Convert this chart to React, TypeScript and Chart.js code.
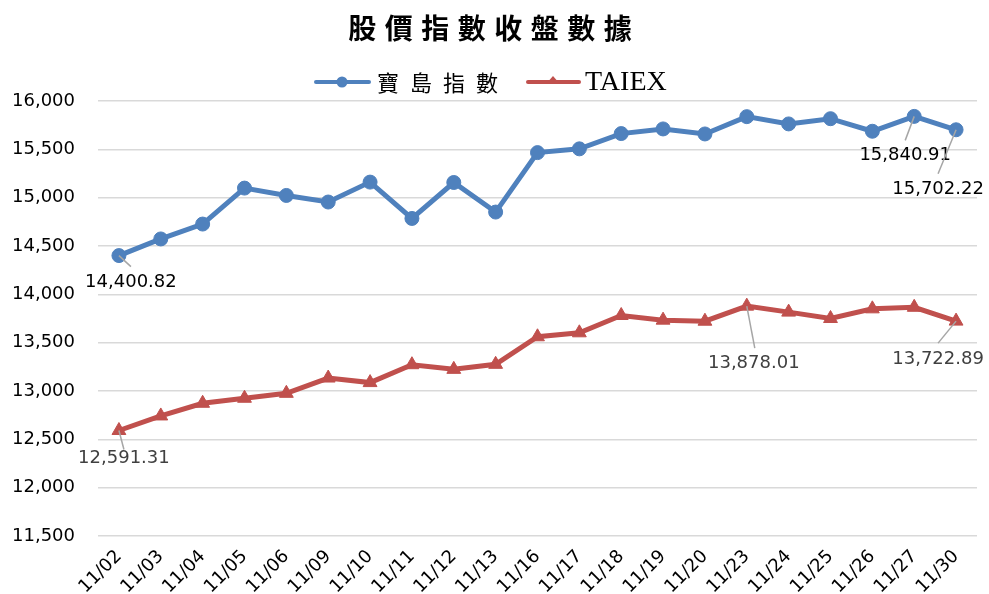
import React, { useEffect, useRef } from 'react';
import { Chart, registerables } from 'chart.js';

Chart.register(...registerables);

const chartTitle = '股價指數收盤數據';
const seriesNames = ['寶島指數', 'TAIEX'];
const categories = ['11/02', '11/03', '11/04', '11/05', '11/06', '11/09', '11/10', '11/11', '11/12', '11/13', '11/16', '11/17', '11/18', '11/19', '11/20', '11/23', '11/24', '11/25', '11/26', '11/27', '11/30'];
const formosaIndex = [14400.82, 14573, 14727, 15099, 15023, 14955, 15161, 14785, 15157, 14851, 15466, 15505, 15663, 15711, 15659, 15838, 15763, 15817, 15687, 15840.91, 15702.22];
const taiexIndex = [12591.31, 12742, 12873, 12925, 12976, 13134, 13087, 13272, 13224, 13276, 13561, 13602, 13781, 13733, 13722, 13878.01, 13816, 13750, 13850, 13866, 13722.89];
const yTicks = [11500, 12000, 12500, 13000, 13500, 14000, 14500, 15000, 15500, 16000];

const BLUE = '#4F81BD';
const RED = '#C0504D';
const W = 989;
const H = 600;

// which points carry a value label, and where the label sits relative to the point
const labelSpecs = [
  { ds: 0, idx: 0, dx: 12, dy: 27, lx: 12, ly: 11, color: '#000000' },
  { ds: 0, idx: 19, dx: -9, dy: 39, lx: -9, ly: 24, color: '#000000' },
  { ds: 0, idx: 20, dx: -18, dy: 60, lx: -18, ly: 44, color: '#000000' },
  { ds: 1, idx: 0, dx: 5, dy: 28, lx: 5, ly: 19, color: '#404040' },
  { ds: 1, idx: 15, dx: 7, dy: 57, lx: 8, ly: 42, color: '#404040' },
  { ds: 1, idx: 20, dx: -18, dy: 38, lx: -18, ly: 22, color: '#404040' },
];

const fmt2 = (v: number) => v.toLocaleString('en-US', { minimumFractionDigits: 2, maximumFractionDigits: 2 });

const decorPlugin = {
  id: 'decor',
  afterDraw(chart: any) {
    const ctx = chart.ctx as CanvasRenderingContext2D;
    ctx.save();
    // title
    ctx.fillStyle = '#000';
    ctx.font = 'bold 28px "Noto Sans CJK TC"';
    ctx.textAlign = 'center';
    ctx.textBaseline = 'middle';
    const tChars = Array.from(chartTitle);
    const tAdv = 36.5;
    tChars.forEach((c, i) => {
      ctx.fillText(c, 490 + (i - (tChars.length - 1) / 2) * tAdv, 28);
    });

    // legend
    const ly = 82;
    // series 1
    ctx.strokeStyle = BLUE;
    ctx.lineWidth = 4;
    ctx.lineCap = 'round';
    ctx.beginPath();
    ctx.moveTo(316, ly);
    ctx.lineTo(369, ly);
    ctx.stroke();
    ctx.fillStyle = BLUE;
    ctx.beginPath();
    ctx.arc(342, ly, 5.5, 0, Math.PI * 2);
    ctx.fill();
    ctx.fillStyle = '#000';
    ctx.font = '22px "Noto Sans CJK TC"';
    ctx.textAlign = 'center';
    Array.from(seriesNames[0]).forEach((c, i) => {
      ctx.fillText(c, 388 + i * 33, ly + 1);
    });
    // series 2
    ctx.strokeStyle = RED;
    ctx.beginPath();
    ctx.moveTo(528, ly);
    ctx.lineTo(579, ly);
    ctx.stroke();
    ctx.fillStyle = RED;
    ctx.beginPath();
    ctx.moveTo(553, ly - 6);
    ctx.lineTo(560, ly + 2);
    ctx.lineTo(546, ly + 2);
    ctx.closePath();
    ctx.fill();
    ctx.fillStyle = '#000';
    ctx.font = '28px "Liberation Serif"';
    ctx.textAlign = 'left';
    ctx.fillText(seriesNames[1], 585, ly + 1);
    ctx.restore();
  },
  afterDatasetsDraw(chart: any) {
    const ctx = chart.ctx as CanvasRenderingContext2D;
    ctx.save();
    labelSpecs.forEach((s) => {
      const pt = chart.getDatasetMeta(s.ds).data[s.idx];
      const value = chart.data.datasets[s.ds].data[s.idx] as number;
      const x = pt.x;
      const y = pt.y;
      ctx.strokeStyle = '#A6A6A6';
      ctx.lineWidth = 1.5;
      ctx.beginPath();
      ctx.moveTo(x, y);
      ctx.lineTo(x + s.lx, y + s.ly);
      ctx.stroke();
      ctx.fillStyle = s.color;
      ctx.font = '18px "DejaVu Sans"';
      ctx.textAlign = 'center';
      ctx.textBaseline = 'middle';
      ctx.fillText(fmt2(value), x + s.dx, y + s.dy);
    });
    ctx.restore();
  },
};

export default function App() {
  const ref = useRef<HTMLCanvasElement | null>(null);
  useEffect(() => {
    if (!ref.current) return;
    Chart.defaults.font.family = '"DejaVu Sans"';
    const chart = new Chart(ref.current, {
      type: 'line',
      data: {
        labels: categories,
        datasets: [
          {
            label: seriesNames[0],
            data: formosaIndex,
            borderColor: BLUE,
            backgroundColor: BLUE,
            borderWidth: 5,
            pointStyle: 'circle',
            pointRadius: 7,
            pointBorderWidth: 1,
            pointBackgroundColor: BLUE,
            pointBorderColor: BLUE,
            tension: 0,
          },
          {
            label: seriesNames[1],
            data: taiexIndex,
            borderColor: RED,
            backgroundColor: RED,
            borderWidth: 5,
            pointStyle: 'triangle',
            pointRadius: 8,
            pointBorderWidth: 1,
            pointBackgroundColor: RED,
            pointBorderColor: RED,
            tension: 0,
          },
        ],
      },
      options: {
        responsive: false,
        animation: false,
        devicePixelRatio: 1,
        layout: { padding: { top: 101, left: 0, right: 12, bottom: 0 } },
        plugins: {
          legend: { display: false },
          title: { display: false },
          tooltip: { enabled: false },
        },
        scales: {
          x: {
            type: 'category',
            offset: true,
            grid: { display: false, drawTicks: false },
            border: { display: false },
            ticks: {
              color: '#000',
              font: { size: 18, family: '"DejaVu Sans"' },
              minRotation: 45,
              maxRotation: 45,
              padding: 10,
              autoSkip: false,
            },
            afterFit: (scale: any) => {
              scale.height = H - 536;
            },
          },
          y: {
            min: yTicks[0],
            max: yTicks[yTicks.length - 1],
            afterBuildTicks: (scale: any) => {
              scale.ticks = yTicks.map((v) => ({ value: v }));
            },
            grid: { color: '#D9D9D9', lineWidth: 1.5, drawTicks: false },
            border: { display: false },
            ticks: {
              color: '#000',
              font: { size: 18, family: '"DejaVu Sans"' },
              padding: 23,
              callback: (v: any) => Number(v).toLocaleString('en-US'),
            },
            afterFit: (scale: any) => {
              scale.width = 98;
            },
          },
        },
      },
      plugins: [decorPlugin],
    });
    return () => chart.destroy();
  }, []);
  return (
    <div style={{ position: 'fixed', left: 0, top: 0, width: W, height: H, background: '#fff' }}>
      <canvas ref={ref} width={W} height={H} style={{ display: 'block' }} />
    </div>
  );
}
